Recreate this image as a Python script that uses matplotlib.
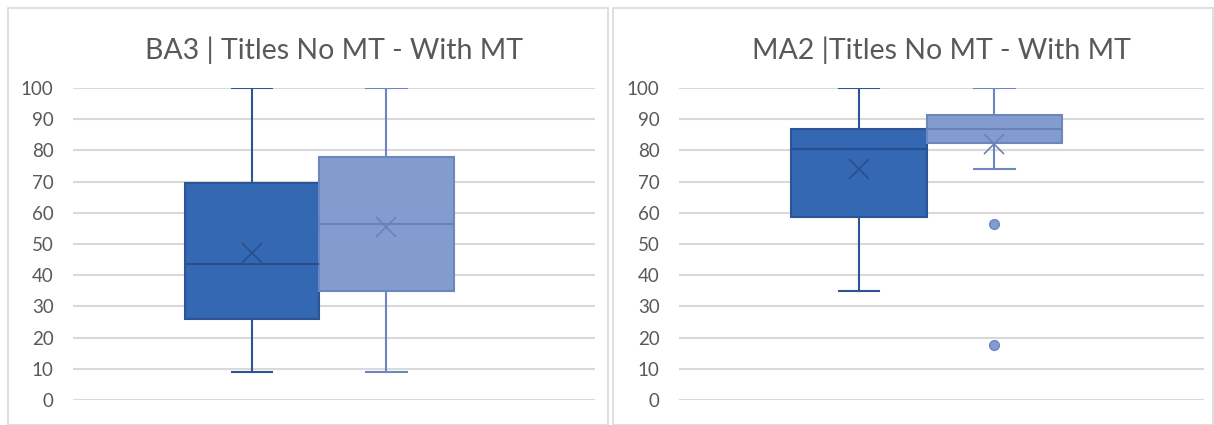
import numpy as np
import matplotlib.pyplot as plt
from matplotlib.patches import Rectangle

# === données (Q1, médiane, Q3, moyenne, moustaches)
titles = ['BA3 | Titles No MT - With MT', 'MA2 |Titles No MT - With MT']
series = ['No MT', 'With MT']

ba3_q1 = [26, 35]
ba3_med = [43.5, 56.5]
ba3_q3 = [69.5, 78]
ba3_mean = [47, 55.5]
ba3_lo = [9, 9]
ba3_hi = [100, 100]
ba3_out = [[], []]

ma2_q1 = [58.5, 82.5]
ma2_med = [80.5, 87]
ma2_q3 = [87, 91.5]
ma2_mean = [74, 82]
ma2_lo = [35, 74]
ma2_hi = [100, 100]
ma2_out = [[], [56.5, 17.5]]

yticks = list(range(0, 101, 10))

face = ['#3468B2', '#829CD0']
edge = ['#2C5496', '#6C86C0']
med_col = ['#2A4F8C', '#6A82B8']


def make_stats(q1, med, q3, mean, lo, hi, out):
    stats = []
    for i in range(len(q1)):
        stats.append(dict(q1=q1[i], med=med[i], q3=q3[i], mean=mean[i],
                          whislo=lo[i], whishi=hi[i], fliers=out[i], label=series[i]))
    return stats


all_stats = [
    make_stats(ba3_q1, ba3_med, ba3_q3, ba3_mean, ba3_lo, ba3_hi, ba3_out),
    make_stats(ma2_q1, ma2_med, ma2_q3, ma2_mean, ma2_lo, ma2_hi, ma2_out),
]

plt.rcParams['font.family'] = ['Lato', 'DejaVu Sans']

fig = plt.figure(figsize=(12.14, 4.25), dpi=100)
fig.patch.set_facecolor('white')

# cadres des deux graphiques
fig.patches.append(Rectangle((8 / 1214, 0), 600 / 1214, 417 / 425, transform=fig.transFigure,
                             fill=False, edgecolor='#D9D9D9', lw=1.2))
fig.patches.append(Rectangle((613 / 1214, 0), 600 / 1214, 417 / 425, transform=fig.transFigure,
                             fill=False, edgecolor='#D9D9D9', lw=1.2))

ax_pos = [[73 / 1214, 25 / 425, 522 / 1214, 312 / 425],
          [679 / 1214, 25 / 425, 525 / 1214, 312 / 425]]

for k in range(2):
    ax = fig.add_axes(ax_pos[k])
    st = all_stats[k]
    for i in range(2):
        ax.bxp([st[i]], positions=[i + 1], widths=1.0, capwidths=0.3,
               showmeans=True, meanline=False, patch_artist=True,
               boxprops=dict(facecolor=face[i], edgecolor=edge[i], lw=1.5),
               whiskerprops=dict(color=edge[i], lw=1.5),
               capprops=dict(color=edge[i], lw=1.5),
               medianprops=dict(color=med_col[i], lw=1.5),
               meanprops=dict(marker='x', markeredgecolor=med_col[i], markersize=14, mew=1.2),
               flierprops=dict(marker='o', markerfacecolor=face[1], markeredgecolor=edge[1],
                               markersize=7))
    ax.set_xlim(-0.33, 3.55)
    ax.set_ylim(0, 100)
    ax.set_yticks(yticks)
    ax.set_xticks([])
    ax.yaxis.grid(True, color='#D9D9D9', lw=1.5)
    ax.set_axisbelow(True)
    for s in ax.spines.values():
        s.set_visible(False)
    ax.tick_params(axis='y', length=0, pad=14, labelsize=13.5, labelcolor='#595959')
    ax.set_title(titles[k], fontsize=20.5, color='#595959', pad=21)

fig.savefig('out.png', dpi=100)
